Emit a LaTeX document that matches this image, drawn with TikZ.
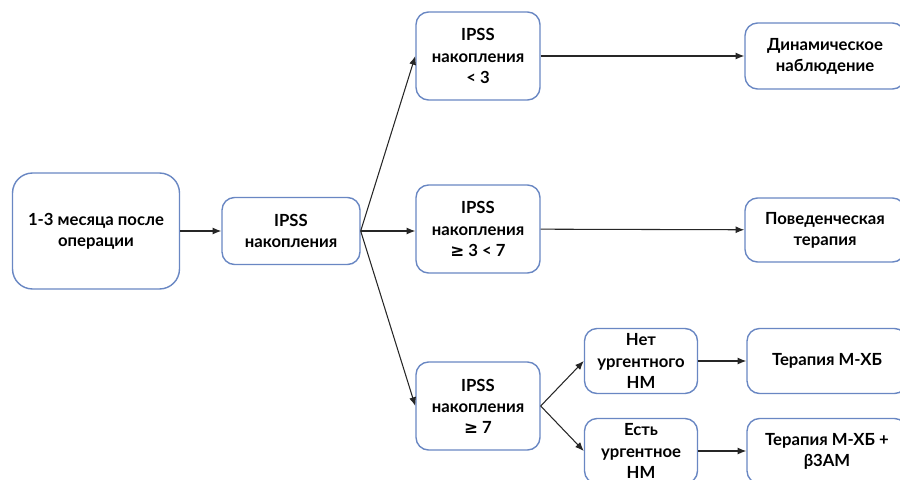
\documentclass[tikz,border=0pt]{standalone}
\usepackage{fontspec}
\setmainfont{Lato}
\newfontfamily\symfont{DejaVu Sans}
\usepackage{xcolor}
\usetikzlibrary{arrows.meta}

\definecolor{boxblue}{RGB}{105,135,195}

\begin{document}
\begin{tikzpicture}[x=0.02cm, y=-0.02cm,
    box/.style={draw=boxblue, line width=0.8pt, fill=white, rounded corners=0.25cm,
        align=center, inner sep=0pt, font=\bfseries\fontsize{9.5}{12}\selectfont},
    link/.style={-{Latex[length=5pt, width=4pt]}, line width=0.6pt, black!85}]
    \useasboundingbox (0,0) rectangle (900,480);

    % Nodes
    \node[box, rounded corners=0.4cm, minimum width=3.34cm, minimum height=2.32cm] (start) at (96,231) {1-3 месяца после\\операции};
    \node[box, minimum width=2.76cm, minimum height=1.34cm] (ipss) at (291,231) {IPSS\\накопления};

    % IPSS levels
    \node[box, minimum width=2.48cm, minimum height=1.76cm] (low) at (478,56) {IPSS\\накопления\\< 3};
    \node[box, minimum width=2.48cm, minimum height=1.76cm] (mid) at (478,229) {IPSS\\накопления\\{\symfont ≥} 3 < 7};
    \node[box, minimum width=2.48cm, minimum height=1.76cm] (high) at (478,406) {IPSS\\накопления\\{\symfont ≥} 7};

    % Urgency
    \node[box, minimum width=2.26cm, minimum height=1.3cm] (nourg) at (641,361) {Нет\\ургентного\\НМ};
    \node[box, minimum width=2.26cm, minimum height=1.3cm] (urg) at (641,451) {Есть\\ургентное\\НМ};

    % Outcomes
    \node[box, minimum width=3.2cm, minimum height=1.32cm] (watch) at (825,56) {Динамическое\\наблюдение};
    \node[box, minimum width=3.2cm, minimum height=1.28cm] (behav) at (825,230) {Поведенческая\\терапия};
    \node[box, minimum width=3.2cm, minimum height=1.3cm] (mxb) at (827,361) {Терапия М-ХБ};
    \node[box, minimum width=3.2cm, minimum height=1.3cm] (mxbb) at (827,451) {Терапия М-ХБ +\\β3АМ};

    % Edges
    \draw[link] (start) -- (ipss);
    \draw[link] (ipss.east) -- (low.west);
    \draw[link] (ipss.east) -- (mid.west |- ipss.east);
    \draw[link] (ipss.east) -- (high.west);
    \draw[link] (low) -- (watch);
    \draw[link] (mid) -- (behav);
    \draw[link] (high.east) -- (nourg.west);
    \draw[link] (high.east) -- (urg.west);
    \draw[link] (nourg) -- (mxb);
    \draw[link] (urg) -- (mxbb);

\end{tikzpicture}
\end{document}
